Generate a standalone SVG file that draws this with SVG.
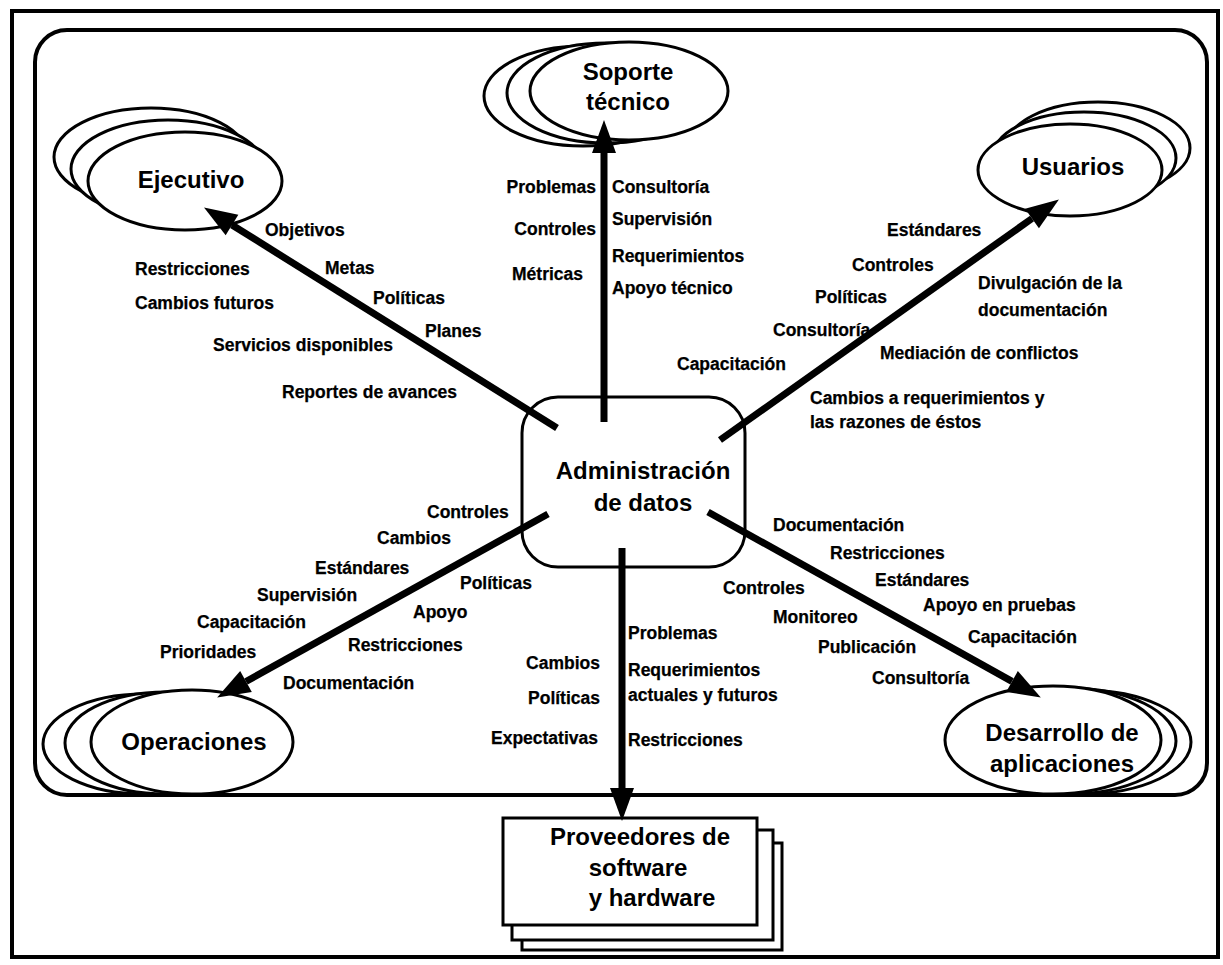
<svg xmlns="http://www.w3.org/2000/svg" width="1223" height="965" viewBox="0 0 1223 965">
  <defs>
    <style>
      .frame { fill: none; stroke: #000; stroke-width: 4; }
      .shape { fill: #fff; stroke: #000; stroke-width: 3; }
      .node-text { font-family: "Liberation Sans", Arial, sans-serif; font-weight: bold; font-size: 24px; fill: #000; text-anchor: middle; }
      .lbl { font-family: "Liberation Sans", Arial, sans-serif; font-weight: bold; font-size: 17.5px; fill: #000; stroke: #000; stroke-width: 0.25; }
      .end { text-anchor: end; }
      .flow { stroke: #000; stroke-width: 7; fill: none; marker-end: url(#head); }
    </style>
    <marker id="head" markerUnits="userSpaceOnUse" markerWidth="34" markerHeight="28" refX="0" refY="12" orient="auto" viewBox="0 0 34 24" overflow="visible">
      <path d="M0,0 L33,12 L0,24 z" fill="#000"/>
    </marker>
  </defs>

  <rect width="1223" height="965" fill="#fff"/>

  <!-- outer border and inner boundary -->
  <rect class="frame" x="12" y="11" width="1206" height="946"/>
  <rect class="frame" x="35" y="30" width="1172" height="765" rx="32" ry="32"/>

  <!-- Ejecutivo -->
  <g id="ejecutivo">
    <ellipse class="shape" cx="151" cy="157" rx="97" ry="49"/>
    <ellipse class="shape" cx="168" cy="169" rx="97" ry="49"/>
    <ellipse class="shape" cx="185" cy="181" rx="97" ry="49"/>
    <text class="node-text" x="191" y="188">Ejecutivo</text>
  </g>

  <!-- Soporte técnico -->
  <g id="soporte">
    <ellipse class="shape" cx="583" cy="96" rx="99" ry="50"/>
    <ellipse class="shape" cx="606" cy="93" rx="99" ry="50"/>
    <ellipse class="shape" cx="629" cy="91" rx="99" ry="49"/>
    <text class="node-text" x="628" y="80">Soporte</text>
    <text class="node-text" x="628" y="110">técnico</text>
  </g>

  <!-- Usuarios -->
  <g id="usuarios">
    <ellipse class="shape" cx="1098" cy="148" rx="92" ry="46"/>
    <ellipse class="shape" cx="1084" cy="158" rx="92" ry="46"/>
    <ellipse class="shape" cx="1070" cy="170" rx="92" ry="46"/>
    <text class="node-text" x="1073" y="175">Usuarios</text>
  </g>

  <!-- Operaciones -->
  <g id="operaciones">
    <ellipse class="shape" cx="144" cy="744" rx="101" ry="50"/>
    <ellipse class="shape" cx="166" cy="743" rx="101" ry="51"/>
    <ellipse class="shape" cx="192" cy="742" rx="101" ry="52"/>
    <text class="node-text" x="194" y="750">Operaciones</text>
  </g>

  <!-- Desarrollo de aplicaciones -->
  <g id="desarrollo">
    <ellipse class="shape" cx="1083" cy="742" rx="108" ry="52"/>
    <ellipse class="shape" cx="1068" cy="741" rx="108" ry="53"/>
    <ellipse class="shape" cx="1053" cy="740" rx="108" ry="54"/>
    <text class="node-text" x="1062" y="741">Desarrollo de</text>
    <text class="node-text" x="1062" y="772">aplicaciones</text>
  </g>

  <!-- Administración de datos -->
  <g id="administracion">
    <rect class="shape" x="522" y="397" width="223" height="170" rx="36" ry="36"/>
    <text class="node-text" x="643" y="479" font-size="25">Administración</text>
    <text class="node-text" x="643" y="511" font-size="25">de datos</text>
  </g>

  <!-- Proveedores de software y hardware -->
  <g id="proveedores">
    <rect class="shape" x="522" y="843" width="260" height="107"/>
    <rect class="shape" x="512" y="830" width="261" height="110"/>
    <rect class="shape" x="503" y="818" width="254" height="107"/>
    <text class="node-text" x="640" y="845">Proveedores de</text>
    <text class="node-text" x="638" y="876">software</text>
    <text class="node-text" x="652" y="906">y hardware</text>
  </g>

  <!-- connectors -->
  <g id="connectors">
    <line class="flow" x1="604" y1="422" x2="604" y2="153"/>
    <line class="flow" x1="622" y1="548" x2="622" y2="788"/>
    <line class="flow" x1="557" y1="428" x2="232" y2="225"/>
    <line class="flow" x1="720" y1="440" x2="1032" y2="218.5"/>
    <line class="flow" x1="548" y1="514" x2="246" y2="681.5"/>
    <line class="flow" x1="708" y1="512" x2="1012" y2="681.4"/>
  </g>

  <!-- flow labels: Ejecutivo -->
  <g id="labels-ejecutivo">
    <text class="lbl" x="265" y="236">Objetivos</text>
    <text class="lbl" x="135" y="275">Restricciones</text>
    <text class="lbl" x="325" y="274">Metas</text>
    <text class="lbl" x="135" y="309">Cambios futuros</text>
    <text class="lbl" x="373" y="304">Políticas</text>
    <text class="lbl" x="425" y="337">Planes</text>
    <text class="lbl" x="213" y="351">Servicios disponibles</text>
    <text class="lbl" x="282" y="398">Reportes de avances</text>
  </g>

  <!-- flow labels: Soporte técnico -->
  <g id="labels-soporte">
    <text class="lbl end" x="596" y="193">Problemas</text>
    <text class="lbl end" x="596" y="235">Controles</text>
    <text class="lbl" x="512" y="280">Métricas</text>
    <text class="lbl" x="612" y="193">Consultoría</text>
    <text class="lbl" x="612" y="225">Supervisión</text>
    <text class="lbl" x="612" y="262">Requerimientos</text>
    <text class="lbl" x="612" y="294">Apoyo técnico</text>
  </g>

  <!-- flow labels: Usuarios -->
  <g id="labels-usuarios">
    <text class="lbl" x="887" y="236">Estándares</text>
    <text class="lbl" x="852" y="271">Controles</text>
    <text class="lbl" x="815" y="303">Políticas</text>
    <text class="lbl" x="773" y="336">Consultoría</text>
    <text class="lbl" x="677" y="370">Capacitación</text>
    <text class="lbl" x="978" y="289">Divulgación de la</text>
    <text class="lbl" x="978" y="316">documentación</text>
    <text class="lbl" x="880" y="359">Mediación de conflictos</text>
    <text class="lbl" x="810" y="404">Cambios a requerimientos y</text>
    <text class="lbl" x="810" y="428">las razones de éstos</text>
  </g>

  <!-- flow labels: Operaciones -->
  <g id="labels-operaciones">
    <text class="lbl" x="427" y="518">Controles</text>
    <text class="lbl" x="377" y="544">Cambios</text>
    <text class="lbl" x="315" y="574">Estándares</text>
    <text class="lbl" x="257" y="601">Supervisión</text>
    <text class="lbl" x="197" y="628">Capacitación</text>
    <text class="lbl" x="160" y="658">Prioridades</text>
    <text class="lbl" x="460" y="589">Políticas</text>
    <text class="lbl" x="413" y="618">Apoyo</text>
    <text class="lbl" x="348" y="651">Restricciones</text>
    <text class="lbl" x="283" y="689">Documentación</text>
  </g>

  <!-- flow labels: Proveedores -->
  <g id="labels-proveedores">
    <text class="lbl" x="628" y="639">Problemas</text>
    <text class="lbl" x="628" y="676">Requerimientos</text>
    <text class="lbl" x="628" y="701">actuales y futuros</text>
    <text class="lbl" x="628" y="746">Restricciones</text>
    <text class="lbl end" x="600" y="669">Cambios</text>
    <text class="lbl end" x="600" y="704">Políticas</text>
    <text class="lbl end" x="598" y="744">Expectativas</text>
  </g>

  <!-- flow labels: Desarrollo de aplicaciones -->
  <g id="labels-desarrollo">
    <text class="lbl" x="773" y="531">Documentación</text>
    <text class="lbl" x="830" y="559">Restricciones</text>
    <text class="lbl" x="875" y="586">Estándares</text>
    <text class="lbl" x="923" y="611">Apoyo en pruebas</text>
    <text class="lbl" x="968" y="643">Capacitación</text>
    <text class="lbl" x="723" y="594">Controles</text>
    <text class="lbl" x="773" y="623">Monitoreo</text>
    <text class="lbl" x="818" y="653">Publicación</text>
    <text class="lbl" x="872" y="684">Consultoría</text>
  </g>
</svg>
